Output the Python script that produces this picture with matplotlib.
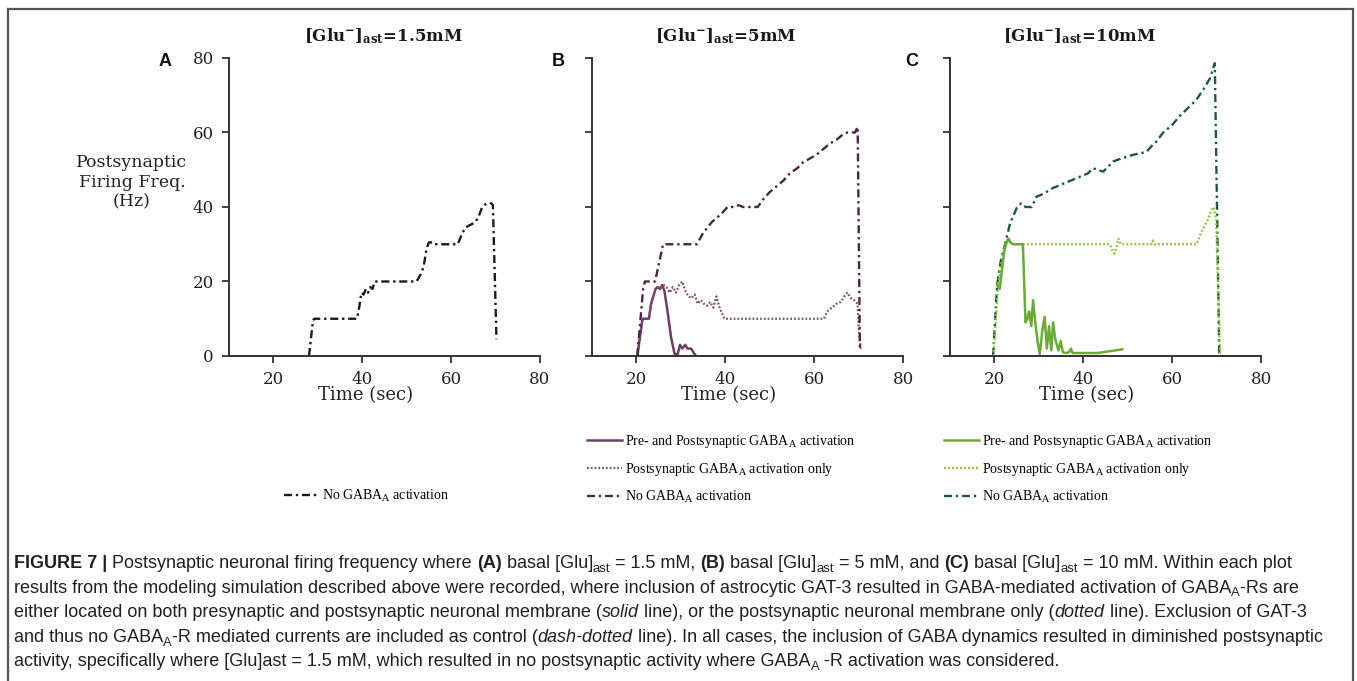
import matplotlib
matplotlib.use("Agg")
import matplotlib.pyplot as plt
from matplotlib.lines import Line2D

# ---- simulated firing frequency traces (time in sec, frequency in Hz) ----
# (A) [Glu]ast = 1.5 mM, only the control run fires
a_none_t = [28.0, 28.9, 29.2, 38.8, 39.3, 39.8, 40.3, 40.8, 41.3, 41.8, 42.3, 42.8, 52.2, 53.2,
            53.8, 54.5, 55.0, 55.8, 56.2, 61.5, 62.5, 63.3, 64.0, 64.8, 65.5, 66.2, 67.0, 68.0,
            69.0, 69.4, 70.2]
a_none_v = [0, 9.5, 10, 10, 13, 17, 16.5, 18, 17, 18.5, 18, 20, 20, 22, 24, 29, 30.5, 30.5, 30,
            30, 33, 34.5, 35, 35.5, 36, 37.5, 40, 41, 41, 40.5, 4.5]

# (B) [Glu]ast = 5 mM
b_both_t = [20.2, 21.3, 21.5, 22.8, 23.3, 23.8, 24.3, 24.8, 25.3, 25.8, 26.3, 27.0, 27.8, 28.6,
            29.3, 29.8, 30.3, 31.0, 31.5, 32.3, 32.8, 33.4]
b_both_v = [0, 9.5, 10, 10, 14, 16, 18, 18.5, 18, 19, 17.5, 12, 5, 0.5, 0.5, 3, 2, 3, 2, 2, 1, 0]
b_post_t = [20.2, 21.3, 21.5, 22.8, 23.3, 23.8, 24.3, 24.8, 25.5, 26.2, 26.8, 27.5, 28.2, 28.9,
            29.6, 30.3, 31.0, 31.7, 32.4, 33.1, 33.8, 34.5, 35.2, 35.9, 36.6, 37.3, 38.0, 38.7,
            39.8, 62.2, 63.0, 64.0, 65.0, 66.0, 66.8, 67.5, 68.3, 69.0, 69.8, 70.0, 70.5]
b_post_v = [0, 9.5, 10, 10, 14, 16, 18, 18.5, 18.5, 19, 18.5, 17, 18.5, 17, 19, 20, 17.5, 16,
            15.5, 16.5, 14, 15, 14, 13.5, 14.5, 13, 16, 13, 10, 10, 12, 13, 14, 14.5, 16, 17,
            15.5, 15, 14, 8, 1.5]
b_none_t = [20.2, 21.5, 21.9, 24.2, 26.0, 26.5, 33.6, 35.0, 36.0, 37.0, 38.0, 39.0, 40.5, 42.0,
            43.0, 44.0, 47.3, 48.5, 50.0, 51.5, 53.0, 54.5, 56.3, 57.5, 59.0, 60.5, 62.0, 63.5,
            65.0, 66.5, 67.5, 69.2, 69.8, 70.3]
b_none_v = [0, 18, 20, 20, 30, 30, 30, 33, 34.5, 36, 37, 38, 40, 40, 40.5, 40, 40, 42, 44, 45.5,
            47, 49, 50.5, 52, 53, 54, 55.5, 57, 58, 59.5, 60, 60, 61.5, 2]

# (C) [Glu]ast = 10 mM
c_both_t = [20.6, 21.2, 21.6, 22.2, 22.6, 23.2, 23.6, 24.2, 26.4, 27.0, 27.4, 27.8, 28.3, 28.7,
            29.2, 29.7, 30.2, 30.8, 31.3, 31.8, 32.3, 32.8, 33.2, 33.7, 34.4, 34.9, 35.4, 36.0,
            36.8, 37.2, 37.6, 38.2, 43.2, 46.0, 48.8]
c_both_v = [19, 18, 22, 28, 30, 31.5, 30.5, 30, 30, 9, 10, 12, 8, 15, 9, 4, 0.5, 7, 10.5, 2, 8,
            1.5, 9, 4.5, 1.5, 4, 1, 0.8, 1, 2, 0.8, 0.8, 0.8, 1.3, 1.8]
c_post_t = [19.8, 20.8, 21.6, 22.4, 23.0, 23.5, 24.2, 46.0, 46.5, 47.0, 47.5, 47.9, 48.5, 55.2,
            55.6, 56.0, 65.5, 66.5, 67.3, 68.0, 68.8, 69.3, 69.9, 70.3, 70.8]
c_post_v = [0, 19, 25, 30, 31.5, 30.5, 30, 30, 28.5, 27.5, 29.5, 31.5, 30, 30, 31, 30, 30, 33,
            35, 36.5, 39, 40, 37, 20, 0.5]
c_none_t = [19.7, 20.6, 21.5, 22.4, 23.5, 25.0, 26.0, 27.0, 28.4, 29.5, 31.0, 33.0, 35.0, 37.0,
            39.0, 41.0, 42.2, 44.5, 46.7, 48.5, 51.2, 54.2, 55.5, 56.4, 58.0, 60.0, 61.6, 63.5,
            65.4, 67.0, 68.5, 69.6, 70.6]
c_none_v = [0, 19, 26, 30, 35.5, 39.7, 41, 40, 40, 42.8, 43.5, 45, 46, 47, 48, 49, 50.4, 49.5,
            52.2, 53, 54, 54.8, 56.5, 57.5, 60, 62, 64.3, 66.5, 68.7, 71.5, 74.5, 78.6, 0.5]

titles = ["1.5mM", "5mM", "10mM"]
panel_tags = ["A", "B", "C"]
x_ticks = [20, 40, 60, 80]
y_ticks = [0, 20, 40, 60, 80]

lbl_both = r"Pre- and Postsynaptic GABA$_\mathrm{A}$ activation"
lbl_post = r"Postsynaptic GABA$_\mathrm{A}$ activation only"
lbl_none = r"No GABA$_\mathrm{A}$ activation"

W, H = 1357, 681
SERIF = "DejaVu Serif"
LEG_SERIF = "Liberation Serif"
plt.rcParams["mathtext.fontset"] = "dejavuserif"

fig = plt.figure(figsize=(W / 100, H / 100), dpi=100)


def fx(px):
    return px / W


def fy(py):
    return 1 - py / H


DASHDOT = (0, (3.4, 1.6, 1.0, 1.6))
DOTTED = (0, (0.8, 0.9))

axes = []
for i, left in enumerate([229, 592, 950]):
    ax = fig.add_axes([fx(left), fy(356), 311 / W, 298 / H])
    ax.set_xlim(10, 80)
    ax.set_ylim(0, 80)
    for s in ["top", "right"]:
        ax.spines[s].set_visible(False)
    for s in ["left", "bottom"]:
        ax.spines[s].set_linewidth(1.4)
        ax.spines[s].set_color("#333333")
    ax.set_xticks(x_ticks)
    ax.set_yticks(y_ticks)
    ax.tick_params(direction="out", length=5, width=1.3, color="#333333",
                   labelsize=12, labelcolor="#222222", pad=6)
    for lab in ax.get_xticklabels() + ax.get_yticklabels():
        lab.set_family(SERIF)
    if i > 0:
        ax.set_yticklabels([])
    ax.patch.set_alpha(0)
    axes.append(ax)

axA, axB, axC = axes

# panel A
hA, = axA.plot(a_none_t, a_none_v, color="#1a1a1a", lw=1.7, ls=DASHDOT, label=lbl_none)

# panel B
hB1, = axB.plot(b_both_t, b_both_v, color="#6e3d66", lw=1.8, label=lbl_both)
hB2, = axB.plot(b_post_t, b_post_v, color="#7a4d72", lw=1.6, ls=DOTTED, label=lbl_post)
hB3, = axB.plot(b_none_t, b_none_v, color="#4a2545", lw=1.7, ls=DASHDOT, label=lbl_none)

# panel C
hC3, = axC.plot(c_none_t, c_none_v, color="#1d5a3b", lw=1.7, ls=DASHDOT, label=lbl_none)
hC2, = axC.plot(c_post_t, c_post_v, color="#8cc540", lw=1.7, ls=DOTTED, label=lbl_post)
hC1, = axC.plot(c_both_t, c_both_v, color="#6aab38", lw=1.8, label=lbl_both)

# titles, tags, axis labels
for ax, left, cx, tt, tag, tagx in zip(axes, [229, 592, 950], [383, 726, 1080], titles,
                                       panel_tags, [165, 558, 912]):
    fig.text(fx(cx), fy(41), r"$\mathbf{[Glu^{-}]_{ast}}$" + "=" + tt, ha="center",
             va="baseline", fontsize=12, fontweight="bold", family=SERIF, color="#1a1a1a")
    fig.text(fx(tagx), fy(62), tag, ha="center", va="center", fontsize=13,
             fontweight="bold", family="Liberation Sans", color="#111111")
    fig.text(fx(left + 137), fy(395), "Time (sec)", ha="center", va="center",
             fontsize=13, family=SERIF, color="#222222")

fig.text(fx(132), fy(182), "Postsynaptic\nFiring Freq.\n(Hz)", ha="center", va="center",
         fontsize=12.5, family=SERIF, color="#222222", linespacing=1.2)

# legends
leg_kw = dict(loc="upper left", frameon=False, borderaxespad=0, borderpad=0,
              handlelength=2.5, handletextpad=0.25, labelspacing=0.78,
              prop={"family": LEG_SERIF, "size": 10})
fig.legend(handles=[hA], bbox_to_anchor=(fx(284), fy(488)), **leg_kw)
fig.legend(handles=[hB1, hB2, hB3], bbox_to_anchor=(fx(587), fy(433)), **leg_kw)
fig.legend(handles=[hC1, hC2, hC3], bbox_to_anchor=(fx(944), fy(433)), **leg_kw)

# outer frame
frame = dict(color="#555555", lw=1.6, transform=fig.transFigure)
fig.add_artist(Line2D([fx(8), fx(1353)], [fy(8.5), fy(8.5)], **frame))
fig.add_artist(Line2D([fx(8), fx(8)], [fy(8.5), 0], **frame))
fig.add_artist(Line2D([fx(1353), fx(1353)], [fy(8.5), 0], **frame))

# caption, written run by run so bold / italic / subscript pieces line up
CAP_FONT = "Liberation Sans"
CAP_SIZE = 13
CAP_COLOR = "#231f20"
renderer = fig.canvas.get_renderer()


def text_width(s, **kw):
    t = fig.text(0, 0, s, **kw)
    w = t.get_window_extent(renderer).width
    t.remove()
    return w


space_w = (text_width("x x", fontsize=CAP_SIZE, family=CAP_FONT)
           - text_width("xx", fontsize=CAP_SIZE, family=CAP_FONT))


def caption_line(y, runs, x=14):
    for txt, kind in runs:
        kw = dict(fontsize=CAP_SIZE, family=CAP_FONT, color=CAP_COLOR, va="baseline")
        yy = y
        if kind == "b":
            kw["fontweight"] = "bold"
        elif kind == "i":
            kw["fontstyle"] = "italic"
        elif kind == "s":
            kw["fontsize"] = CAP_SIZE * 0.72
            yy = y + 3.5
        lead = len(txt) - len(txt.lstrip(" "))
        trail = len(txt) - len(txt.rstrip(" "))
        core = txt.strip(" ")
        x += lead * space_w
        if core:
            t = fig.text(fx(x), fy(yy), core, **kw)
            x += t.get_window_extent(renderer).width
        x += trail * space_w


cap_lines = [
    [("FIGURE 7 |", "b"), (" Postsynaptic neuronal firing frequency where ", "n"), ("(A)", "b"),
     (" basal [Glu]", "n"), ("ast", "s"), (" = 1.5 mM, ", "n"), ("(B)", "b"),
     (" basal [Glu]", "n"), ("ast", "s"), (" = 5 mM, and ", "n"), ("(C)", "b"),
     (" basal [Glu]", "n"), ("ast", "s"), (" = 10 mM. Within each plot", "n")],
    [("results from the modeling simulation described above were recorded, where inclusion of "
      "astrocytic GAT-3 resulted in GABA-mediated activation of GABA", "n"), ("A", "s"),
     ("-Rs are", "n")],
    [("either located on both presynaptic and postsynaptic neuronal membrane (", "n"),
     ("solid", "i"), (" line), or the postsynaptic neuronal membrane only (", "n"),
     ("dotted", "i"), (" line). Exclusion of GAT-3", "n")],
    [("and thus no GABA", "n"), ("A", "s"),
     ("-R mediated currents are included as control (", "n"), ("dash-dotted", "i"),
     (" line). In all cases, the inclusion of GABA dynamics resulted in diminished postsynaptic",
      "n")],
    [("activity, specifically where [Glu]ast = 1.5 mM, which resulted in no postsynaptic "
      "activity where GABA", "n"), ("A", "s"), (" -R activation was considered.", "n")],
]
for y, runs in zip([568, 593, 617, 642, 666], cap_lines):
    caption_line(y, runs)

fig.savefig("out.png", dpi=100)
